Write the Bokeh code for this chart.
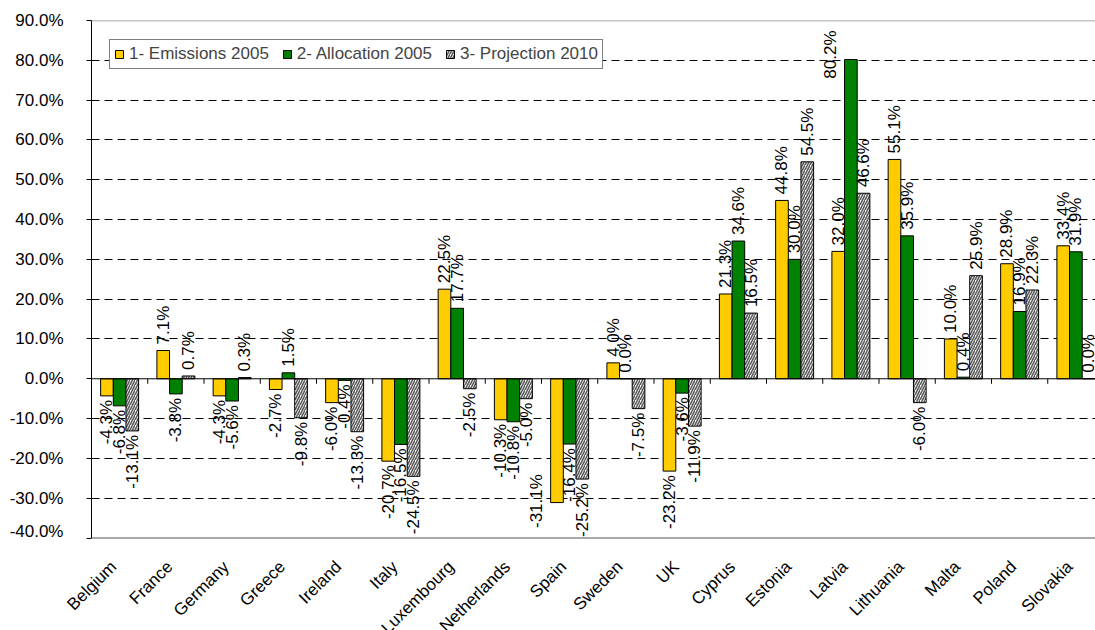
import numpy as np
from bokeh.plotting import figure
from bokeh.layouts import column
from bokeh.models import (ColumnDataSource, Range1d, FixedTicker, PrintfTickFormatter,
                          Span, LabelSet, Legend, LegendItem)
from bokeh.core.properties import field, value
from bokeh.embed import file_html
from bokeh.resources import INLINE

# Change of emissions / allocations / projections per member state (%)
countries = ["Belgium", "France", "Germany", "Greece", "Ireland", "Italy", "Luxembourg",
             "Netherlands", "Spain", "Sweden", "UK", "Cyprus", "Estonia", "Latvia",
             "Lithuania", "Malta", "Poland", "Slovakia"]
emissions_2005 = [-4.3, 7.1, -4.3, -2.7, -6.0, -20.7, 22.5, -10.3, -31.1, 4.0, -23.2,
                  21.3, 44.8, 32.0, 55.1, 10.0, 28.9, 33.4]
allocation_2005 = [-6.8, -3.8, -5.6, 1.5, -0.4, -16.5, 17.7, -10.8, -16.4, 0.0, -3.6,
                   34.6, 30.0, 80.2, 35.9, 0.4, 16.9, 31.9]
projection_2010 = [-13.1, 0.7, 0.3, -9.8, -13.3, -24.5, -2.5, -5.0, -25.2, -7.5, -11.9,
                   16.5, 54.5, 46.6, -6.0, 25.9, 22.3, 0.0]
series_names = ["1- Emissions 2005", "2- Allocation 2005", "3- Projection 2010"]
y_ticks = [-40, -30, -20, -10, 0, 10, 20, 30, 40, 50, 60, 70, 80, 90]

FONT = "Liberation Sans"
FONT_SIZE = "17px"
n = len(countries)
idx = np.arange(n)
bar_w = 0.225

# page layout (pixels): chart on top, strip of slanted category names below
W = 1095
CHART_H, NAMES_H = 540, 90
LEFT, TOP, AXIS_BOTTOM = 91, 20, 537.5
cat_px = 56.25
y_lo, y_hi = y_ticks[0], y_ticks[-1]
px_per_unit = (AXIS_BOTTOM - TOP) / (y_hi - y_lo)
y_start = y_lo - (CHART_H - AXIS_BOTTOM) / px_per_unit
x_end = -0.5 + (W - LEFT) / cat_px

p = figure(width=W, height=CHART_H, output_backend="svg", toolbar_location=None,
           x_range=Range1d(-0.5, x_end), y_range=Range1d(y_start, y_hi),
           x_axis_location=None, frame_align=False,
           min_border_left=LEFT, min_border_right=0, min_border_top=TOP,
           min_border_bottom=0, outline_line_color=None,
           background_fill_color="white", border_fill_color="white")

# y axis, drawn only over the value span
p.yaxis.ticker = FixedTicker(ticks=y_ticks)
p.yaxis.bounds = (y_lo, y_hi)
p.yaxis.formatter = PrintfTickFormatter(format="%.1f%%")
p.yaxis.major_label_text_font = FONT
p.yaxis.major_label_text_font_size = FONT_SIZE
p.yaxis.major_label_text_color = "black"
p.yaxis.major_label_standoff = 23
p.yaxis.major_tick_out = 5
p.yaxis.major_tick_in = 0
p.yaxis.minor_tick_line_color = None
p.yaxis.axis_line_color = "black"
p.yaxis.major_tick_line_color = "black"

# grid
p.xgrid.visible = False
p.ygrid.ticker = FixedTicker(ticks=[t for t in y_ticks[1:-1] if t != 0])
p.ygrid.grid_line_color = "black"
p.ygrid.grid_line_dash = "8 5"
p.ygrid.grid_line_width = 1

# top and bottom edges of the value area
for edge in (y_lo, y_hi):
    p.add_layout(Span(location=edge, dimension="width", line_color="#8c8c8c",
                      line_width=1.5))

styles = [
    dict(fill_color="#FFCC00"),
    dict(fill_color="#008000"),
    dict(fill_color="white", hatch_pattern="/", hatch_color="#5a5a5a",
         hatch_scale=5, hatch_weight=1.6),
]
offsets = [-bar_w, 0.0, bar_w]
LABEL_SPAN = 12.5   # rough length of a value label, in axis units
renderers = []
for vals, off, style in zip([emissions_2005, allocation_2005, projection_2010],
                            offsets, styles):
    vals = np.array(vals, dtype=float)
    ly, align, xoff, yoff = [], [], [], []
    for v in vals:
        if v >= 0 and v + LABEL_SPAN > y_hi:
            # no room above the bar: tuck the label under the top edge, beside it
            ly.append(y_hi); align.append("right"); xoff.append(-20); yoff.append(-10)
        elif v < 0 and v - LABEL_SPAN < y_lo:
            ly.append(y_lo); align.append("left"); xoff.append(-20); yoff.append(10)
        elif v >= 0:
            ly.append(v); align.append("left"); xoff.append(0); yoff.append(6)
        else:
            ly.append(v); align.append("right"); xoff.append(0); yoff.append(-4)
    src = ColumnDataSource(dict(
        x=idx + off, top=vals, ly=ly, align=align, xoff=xoff, yoff=yoff,
        label=[f"{v:.1f}%" for v in vals],
    ))
    r = p.vbar(x="x", top="top", bottom=0, width=bar_w, source=src,
               line_color="black", line_width=1, **style)
    renderers.append(r)
    p.add_layout(LabelSet(x="x", y="ly", text="label", source=src, angle=np.pi / 2,
                          text_align=field("align"), text_baseline="middle",
                          x_offset=field("xoff"), y_offset=field("yoff"),
                          text_font=value(FONT), text_font_size=value(FONT_SIZE),
                          text_color="black"))

# zero line with category separators
p.add_layout(Span(location=0, dimension="width", line_color="black", line_width=1))
p.ray(x=idx[1:] - 0.5, y=0, length=5, length_units="screen", angle=-np.pi / 2,
      line_color="black", line_width=1)

legend = Legend(items=[LegendItem(label=name, renderers=[r])
                       for name, r in zip(series_names, renderers)],
                orientation="horizontal", location=(18, 471),
                border_line_color="black", border_line_width=1,
                background_fill_color="white", background_fill_alpha=1,
                label_text_font=FONT, label_text_font_size=FONT_SIZE,
                glyph_width=10, glyph_height=10, label_height=15,
                padding=4, spacing=13, label_standoff=5, margin=0)
p.add_layout(legend)

# strip of slanted category names, on the same category scale as the chart
names = figure(width=W, height=NAMES_H, output_backend="svg", toolbar_location=None,
               x_range=Range1d(-0.5 - LEFT / cat_px, x_end), y_range=Range1d(0, 1),
               x_axis_location=None, y_axis_location=None, frame_align=False,
               min_border_left=0, min_border_right=0, min_border_top=0,
               min_border_bottom=0, outline_line_color=None,
               background_fill_color="white", border_fill_color="white")
names.grid.visible = False
cat_src = ColumnDataSource(dict(x=idx, y=[1] * n, name=countries))
names.add_layout(LabelSet(x="x", y="y", text="name", source=cat_src, angle=np.pi / 4,
                          x_offset=-6, y_offset=-(AXIS_BOTTOM + 26 - CHART_H),
                          text_align="right", text_baseline="middle",
                          text_font=value(FONT), text_font_size=value(FONT_SIZE),
                          text_color="black"))

layout = column(p, names, spacing=0)
open("out.html", "w").write(file_html(layout, INLINE))
